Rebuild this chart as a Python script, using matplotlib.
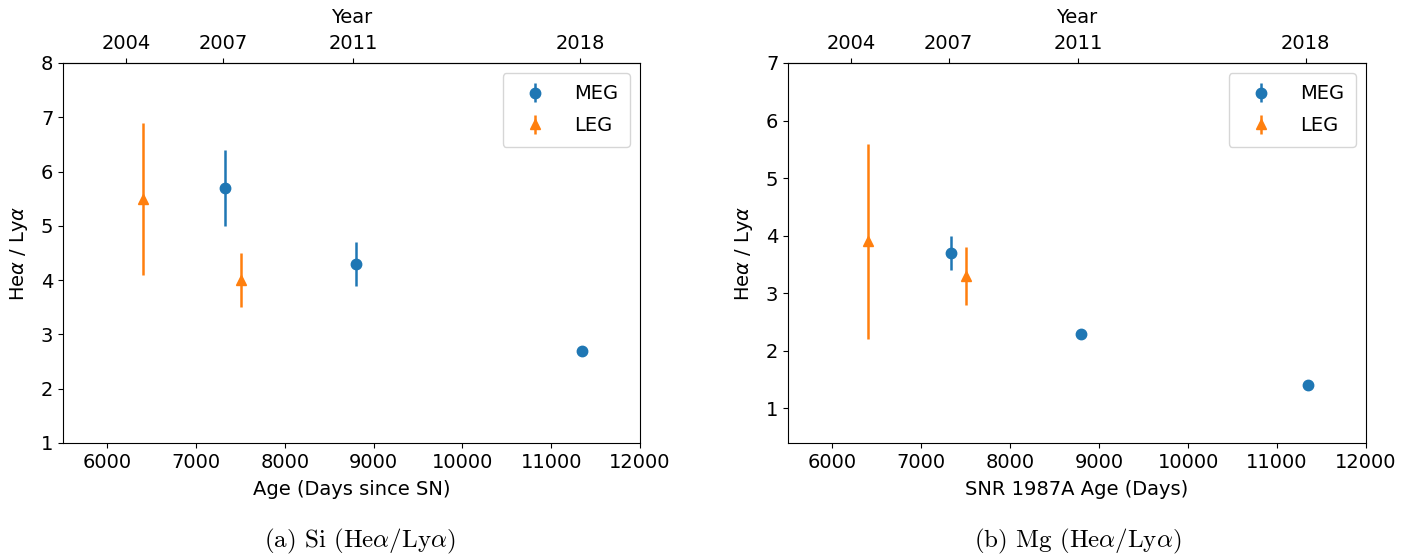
import matplotlib.pyplot as plt
import numpy as np

# Si He-alpha / Ly-alpha
si_meg_days = [7330, 8800, 11350]
si_meg = [5.7, 4.3, 2.7]
si_meg_err = [0.7, 0.4, 0.05]
si_leg_days = [6400, 7500]
si_leg = [5.5, 4.0]
si_leg_err = [1.4, 0.5]

# Mg He-alpha / Ly-alpha
mg_meg_days = [7330, 8800, 11350]
mg_meg = [3.7, 2.3, 1.4]
mg_meg_err = [0.3, 0.07, 0.05]
mg_leg_days = [6400, 7500]
mg_leg = [3.9, 3.3]
mg_leg_err = [1.7, 0.5]

year_ticks = [2004, 2007, 2011, 2018]
captions = [r'(a) Si (He$\alpha$/Ly$\alpha$)', r'(b) Mg (He$\alpha$/Ly$\alpha$)']
xlabels = ['Age (Days since SN)', 'SNR 1987A Age (Days)']

fs = 14

def d2y(d):
    return 1987 + np.asarray(d) / 365.25

def y2d(y):
    return (np.asarray(y) - 1987) * 365.25

fig = plt.figure(figsize=(14.15, 5.58), dpi=100)
W, H = 1415, 558
ax1 = fig.add_axes([63/W, 1-443/H, 577/W, 380/H])
ax2 = fig.add_axes([788/W, 1-443/H, 578/W, 380/H])

panels = [(ax1, si_meg_days, si_meg, si_meg_err, si_leg_days, si_leg, si_leg_err, (1, 8)),
          (ax2, mg_meg_days, mg_meg, mg_meg_err, mg_leg_days, mg_leg, mg_leg_err, (0.4, 7))]
cap_x = [360, 1078]

for i, (ax, md, mv, me, ld, lv, le, yl) in enumerate(panels):
    ax.errorbar(md, mv, yerr=me, fmt='o', color='C0', ms=7.5, elinewidth=1.8, label='MEG')
    ax.errorbar(ld, lv, yerr=le, fmt='^', color='C1', ms=7.5, elinewidth=1.8, label='LEG')
    ax.set_xlim(5500, 12000)
    ax.set_ylim(*yl)
    ax.set_xticks([6000, 7000, 8000, 9000, 10000, 11000, 12000])
    ax.tick_params(labelsize=fs)
    ax.set_xlabel(xlabels[i], fontsize=fs, labelpad=6)
    ax.set_ylabel(r'He$\alpha$ / Ly$\alpha$', fontsize=fs, labelpad=8)
    ax.legend(loc='upper right', fontsize=fs, labelspacing=0.65, handletextpad=1.0,
              borderpad=0.6, handlelength=2.1)
    # year axis on top
    sec = ax.secondary_xaxis('top', functions=(d2y, y2d))
    sec.set_xticks(year_ticks)
    sec.tick_params(labelsize=fs)
    sec.set_xlabel('Year', fontsize=fs, labelpad=8)
    fig.text(cap_x[i] / W, 1 - 541/H, captions[i], ha='center', va='center',
             fontsize=18, family='cmr10', math_fontfamily='cm')

fig.savefig('out.png', dpi=100)
